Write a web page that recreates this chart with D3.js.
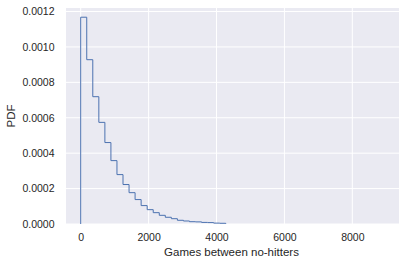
<!DOCTYPE html>
<html>
<head>
<meta charset="utf-8">
<script src="https://cdn.jsdelivr.net/npm/d3@7"></script>
<style>
  body { margin: 0; background: #fff; }
  text { font-family: "Liberation Sans", Arial, sans-serif; fill: #262626; }
</style>
</head>
<body>
<div id="chart"></div>
<script>
// histogram data (density per bin), bins start at 0
const binStart = 0;
const binWidth = 178;
const densities = [
  0.001168, 0.000928, 0.000719, 0.000574, 0.000460, 0.000358,
  0.000279, 0.000223, 0.000177, 0.000138, 0.000104, 0.000081,
  0.000064, 0.000049, 0.000038, 0.000030, 0.000021, 0.000017,
  0.000013, 0.000012, 0.000009, 0.000008, 0.000005, 0.000004
];
const xTicks = [0, 2000, 4000, 6000, 8000];
const yTicks = [0, 0.0002, 0.0004, 0.0006, 0.0008, 0.0010, 0.0012];
const xDomain = [-433, 9375];
const yDomain = [0, 0.00122];

const width = 406, height = 265;
const margin = { top: 8, right: 7, bottom: 41, left: 66 };

const svg = d3.select("#chart").append("svg")
  .attr("width", width)
  .attr("height", height);

const x = d3.scaleLinear().domain(xDomain).range([margin.left, width - margin.right]);
const y = d3.scaleLinear().domain(yDomain).range([height - margin.bottom, margin.top]);

// plot background
svg.append("rect")
  .attr("x", margin.left)
  .attr("y", margin.top)
  .attr("width", width - margin.left - margin.right)
  .attr("height", height - margin.top - margin.bottom)
  .attr("fill", "#eaeaf2");

// grid
svg.append("g").selectAll("line").data(xTicks).join("line")
  .attr("x1", d => x(d)).attr("x2", d => x(d))
  .attr("y1", margin.top).attr("y2", height - margin.bottom)
  .attr("stroke", "#fff").attr("stroke-width", 1);

svg.append("g").selectAll("line").data(yTicks).join("line")
  .attr("x1", margin.left).attr("x2", width - margin.right)
  .attr("y1", d => y(d)).attr("y2", d => y(d))
  .attr("stroke", "#fff").attr("stroke-width", 1);

// axes (labels only, seaborn darkgrid style)
const xAxis = svg.append("g")
  .attr("transform", `translate(0,${height - margin.bottom})`)
  .call(d3.axisBottom(x).tickValues(xTicks).tickSize(0).tickPadding(10).tickFormat(d3.format("d")));
const yAxis = svg.append("g")
  .attr("transform", `translate(${margin.left},0)`)
  .call(d3.axisLeft(y).tickValues(yTicks).tickSize(0).tickPadding(11.5).tickFormat(d3.format(".4f")));
[xAxis, yAxis].forEach(a => {
  a.select(".domain").remove();
  a.selectAll("text").attr("font-size", 10.5).attr("fill", "#262626")
    .style("font-family", "Liberation Sans, Arial, sans-serif");
});

// step histogram
const pts = [[binStart, 0]];
densities.forEach((d, i) => {
  pts.push([binStart + i * binWidth, d]);
  pts.push([binStart + (i + 1) * binWidth, d]);
});
pts.push([binStart + densities.length * binWidth, 0]);

svg.append("path")
  .datum(pts)
  .attr("fill", "none")
  .attr("stroke", "#4c72b0")
  .attr("stroke-width", 1)
  .attr("d", d3.line().x(d => x(d[0])).y(d => y(d[1])));

// axis titles
svg.append("text")
  .attr("x", x(4000) + 15)
  .attr("y", 255.5)
  .attr("text-anchor", "middle")
  .attr("font-size", 11.5)
  .text("Games between no-hitters");

svg.append("text")
  .attr("transform", `translate(15,${(margin.top + height - margin.bottom) / 2}) rotate(-90)`)
  .attr("text-anchor", "middle")
  .attr("font-size", 11.5)
  .text("PDF");
</script>
</body>
</html>
